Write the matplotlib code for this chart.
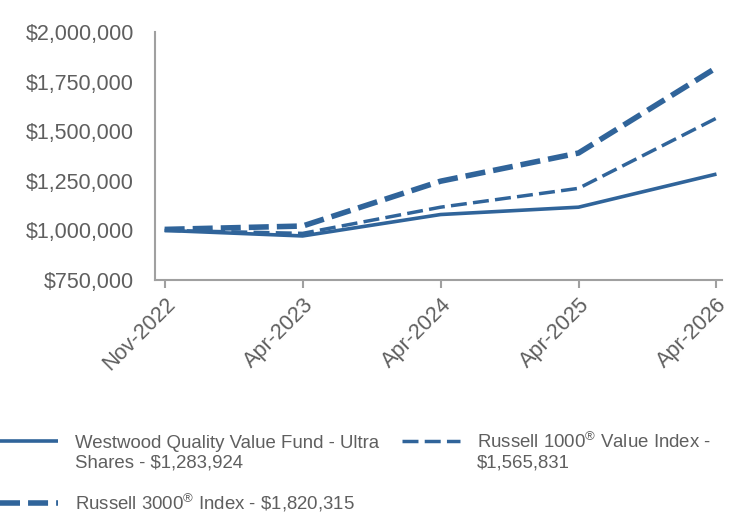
import matplotlib.pyplot as plt
from matplotlib.lines import Line2D
from matplotlib.ticker import FuncFormatter

plt.rcParams['font.family'] = ['Liberation Sans', 'DejaVu Sans']
plt.rcParams['mathtext.fontset'] = 'custom'
plt.rcParams['mathtext.rm'] = 'Liberation Sans'

# growth of $1,000,000
periods = ['Nov-2022', 'Apr-2023', 'Apr-2024', 'Apr-2025', 'Apr-2026']
fund = [1000000, 972000, 1080000, 1117000, 1283924]
r1000v = [1000000, 985000, 1117000, 1212000, 1565831]
r3000 = [1005000, 1022000, 1248000, 1390000, 1820315]

# legend text, one entry per line of text
fund_label = ['Westwood Quality Value Fund - Ultra', 'Shares - \\$1,283,924']
r1000v_label = ['Russell 1000$^{®}$ Value Index -', '\\$1,565,831']
r3000_label = ['Russell 3000$^{®}$ Index - \\$1,820,315']

blue = '#30649a'
grey = '#5f5f5f'
axis_grey = '#a0a0a0'

fig = plt.figure(figsize=(7.44, 5.16), dpi=100)
ax = fig.add_axes([155 / 744, 1 - 280 / 516, 567 / 744, 248 / 516])

x = list(range(len(periods)))
fund_style = dict(color=blue, lw=2.6, solid_capstyle='butt')
r1000_style = dict(color=blue, lw=2.5, dashes=(4.6, 1.8))
r3000_style = dict(color=blue, lw=4.0, dashes=(3.6, 1.45))

ax.plot(x, fund, **fund_style)
ax.plot(x, r1000v, **r1000_style)
ax.plot(x, r3000, **r3000_style)

ax.set_xlim(-0.07, 4.04)
ax.set_ylim(750000, 2000000)
ax.set_yticks([750000, 1000000, 1250000, 1500000, 1750000, 2000000])
ax.yaxis.set_major_formatter(FuncFormatter(lambda v, p: '${:,.0f}'.format(v)))
ax.set_xticks(x)
ax.set_xticklabels(periods, rotation=45, ha='right', rotation_mode='anchor')

for s in ['top', 'right']:
    ax.spines[s].set_visible(False)
for s in ['left', 'bottom']:
    ax.spines[s].set_color(axis_grey)
    ax.spines[s].set_linewidth(1.5)

ax.tick_params(axis='y', length=0, pad=15, labelsize=15.5, labelcolor=grey)
ax.tick_params(axis='x', length=6, width=1.5, color=axis_grey, direction='out',
               pad=4, labelsize=15.5, labelcolor=grey)

# legend drawn by hand to match the layout
def entry(x0, y, style, lines):
    fig.add_artist(Line2D([x0 / 744, (x0 + 58) / 744], [1 - y / 516, 1 - y / 516],
                          transform=fig.transFigure, **style))
    for i, t in enumerate(lines):
        fig.text((x0 + 75) / 744, 1 - (y + 7 + 19 * i) / 516, t, va='baseline',
                 ha='left', fontsize=13.4, color=grey)

entry(0, 441, fund_style, fund_label)
entry(402, 441, r1000_style, r1000v_label)
entry(0, 503, r3000_style, r3000_label)

fig.savefig('out.png', dpi=100)
